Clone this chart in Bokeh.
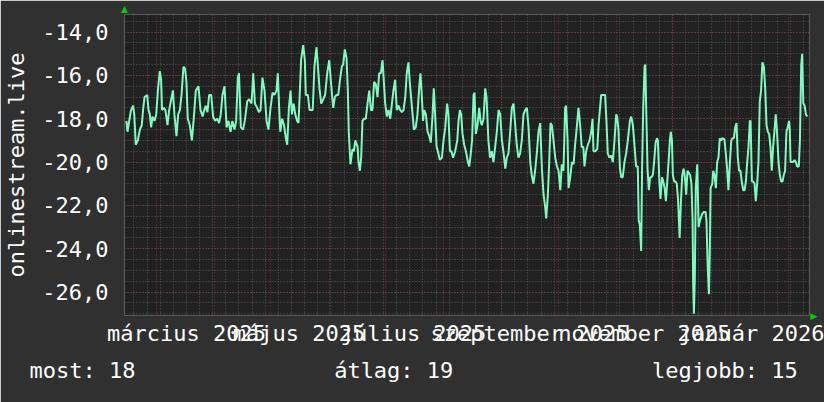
import math
from bokeh.plotting import figure
from bokeh.models import FixedTicker, Range1d, LinearAxis, Title
from bokeh.embed import file_html
from bokeh.resources import INLINE

# x = days since 2025-02-12, y = value
days = [
    1.0, 1.6, 2.7, 3.5, 4.6, 5.2, 6.0, 7.1, 8.2, 9.2, 10.0, 10.7, 12.1, 12.8, 13.5, 14.2, 14.9, 16.0, 16.9, 17.8,
    18.8, 19.5, 20.0, 21.0, 21.8, 22.9, 23.8, 24.9, 25.8, 26.6, 27.7, 28.6, 29.5, 30.4, 31.4, 32.3, 33.0, 33.7, 34.8, 35.9,
    36.8, 38.0, 39.4, 40.5, 41.6, 42.5, 43.3, 44.2, 45.1, 46.2, 47.2, 48.3, 49.4, 50.4, 51.3, 52.2, 53.3, 54.4, 55.4, 56.5,
    57.5, 58.6, 59.5, 60.4, 61.0,
    62.0, 63.2, 64.1, 65.4, 66.4, 67.7, 68.6, 69.5, 70.7, 71.6, 72.5, 73.5, 74.6, 75.7, 76.7, 77.8, 78.9, 79.9, 81.0, 81.7,
    82.4, 83.0, 84.0, 85.0, 86.0, 86.7, 87.6, 88.5, 89.2, 90.1, 91.0, 92.0, 92.7, 93.4, 94.1, 95.2, 96.1, 96.6, 97.7, 98.6,
    99.5, 100.3, 101.2, 102.3, 103.0, 103.9, 104.8, 105.9, 106.9, 108.0, 109.1, 110.1, 111.2, 112.1, 113.0, 113.9, 114.7,
    115.8, 116.5, 117.4, 118.3, 119.0, 119.5, 120.4, 121.5, 122.2,
    123.0, 124.2, 124.7, 125.4, 126.1, 126.8, 127.7, 128.6, 129.5, 130.4, 131.3, 132.1, 133.0, 133.9, 134.8, 135.7, 136.6,
    137.5, 138.2, 138.9, 139.8, 140.7, 141.6, 142.5, 143.3, 144.2, 145.1, 146.0, 146.9, 147.8, 148.7, 149.6, 150.4, 151.3,
    152.0, 152.8, 153.5, 154.2, 155.2, 156.1, 157.0, 157.7, 158.4, 159.1, 159.7, 160.6, 161.5, 162.4, 163.2, 164.1, 164.8,
    165.5, 166.3, 167.0, 168.0, 169.1, 170.0, 170.9, 171.9, 172.6, 173.4, 174.2, 175.1, 176.2, 177.3, 178.0, 178.7, 179.4,
    180.1, 181.0, 181.9, 183.0, 183.7, 184.4, 185.2,
    186.0, 186.5, 187.2, 188.1, 189.0, 189.7, 190.4, 191.3, 192.2, 192.9, 193.9, 194.8, 195.7, 196.6, 197.5, 198.4, 199.3,
    200.2, 201.1, 201.9, 202.9, 203.7, 204.6, 205.5, 206.4, 207.3, 208.2, 209.0, 209.9, 210.8, 211.7, 212.6, 213.5, 214.4,
    215.3, 216.2, 217.0, 217.9, 218.8, 219.7, 220.6, 221.5, 222.4, 223.3, 224.2, 224.7, 225.6, 226.3, 227.0, 227.7, 228.6,
    229.5, 230.4, 231.3, 232.2, 233.0, 233.9, 234.8, 235.3, 236.1, 236.6, 237.5, 238.4, 239.3, 240.1, 241.0, 241.9, 242.8,
    243.6, 244.5,
    245.1, 246.0, 246.9, 247.8, 248.7, 249.4, 249.9, 250.8, 251.9, 252.6, 253.3, 254.0, 254.9, 256.1, 256.8, 257.5, 258.4,
    259.3, 260.2, 261.1, 262.0, 262.5, 263.2, 264.0, 264.7, 265.5, 266.4, 267.3, 268.2, 269.3, 270.0, 270.9, 271.8, 272.6,
    273.5, 274.0, 274.6, 275.3, 275.8, 276.4, 277.1, 277.5, 278.0, 278.7, 279.4, 280.1, 280.8, 281.5, 282.2, 283.0, 283.7,
    284.2, 285.0, 285.6, 286.4, 287.1, 287.8, 288.5, 289.2, 289.9, 290.6, 291.1, 291.7, 292.2, 292.9, 293.6, 294.3, 295.0,
    295.8, 296.5, 297.2, 297.9, 298.6, 299.3, 300.0, 300.7, 301.4, 302.1, 302.7, 303.0, 303.4, 303.9, 304.4, 305.2, 305.9,
    306.6,
    307.8, 308.7, 309.6, 310.1, 310.8, 311.4, 311.9, 312.3, 313.2, 313.7, 314.4, 315.1, 315.8, 316.5, 317.2, 317.9, 318.6,
    319.7, 320.4, 321.1, 321.8, 322.6, 323.3, 324.0, 324.7, 325.4, 326.1, 326.8, 327.5, 328.2, 328.9, 329.7, 330.4, 331.1,
    331.8, 332.5, 333.2, 333.6, 334.3, 335.0, 335.7, 336.4, 337.1, 337.8, 338.5, 339.2, 339.9, 340.7, 341.4, 342.1, 342.8,
    343.5, 344.2, 344.9, 345.6, 346.3, 347.0, 347.7, 348.5, 349.2, 349.9, 350.6, 351.3, 352.0, 352.7, 353.4, 354.1, 354.5,
    354.9, 355.6, 356.3, 357.0, 357.7, 358.4, 359.3, 359.9, 360.6, 361.1, 361.7, 362.4, 363.1, 363.8,
]
values = [
    -18.1, -18.6, -18.0, -17.6, -17.4, -17.8, -19.2, -19.0, -18.5, -18.3, -17.5, -17.0, -16.9, -17.6, -17.8, -18.4, -17.9, -18.1, -17.8, -16.7,
    -15.8, -16.2, -17.6, -17.5, -17.6, -18.3, -17.6, -17.1, -16.7, -17.8, -18.8, -17.8, -17.6, -16.9, -15.6, -15.7, -16.3, -18.0, -18.3, -19.0,
    -18.1, -16.7, -16.5, -17.6, -17.9, -17.6, -17.4, -17.7, -16.9, -16.9, -17.9, -18.1, -18.0, -18.2, -17.8, -16.9, -16.5, -18.4, -18.1, -18.6,
    -18.1, -18.5, -18.1, -16.1, -15.9,
    -18.4, -18.5, -18.1, -17.2, -17.1, -17.3, -15.9, -17.3, -17.5, -17.7, -17.6, -16.1, -16.7, -18.1, -18.5, -17.5, -16.8, -16.9, -16.7, -15.9,
    -17.5, -18.6, -18.0, -18.3, -18.9, -19.2, -17.5, -16.7, -17.8, -17.3, -17.8, -18.1, -18.2, -16.8, -15.3, -14.6, -15.3, -16.9, -16.9, -17.6,
    -17.6, -17.6, -15.6, -14.7, -15.5, -16.6, -17.3, -17.1, -16.9, -15.9, -15.3, -16.4, -17.5, -17.0, -16.9, -16.9, -16.3,
    -15.6, -15.5, -14.8, -15.2, -16.7, -18.6, -20.1, -19.4, -19.5,
    -19.0, -19.3, -20.0, -20.4, -19.8, -18.1, -18.0, -18.0, -17.3, -16.7, -17.6, -17.6, -16.3, -16.4, -17.0, -15.9, -15.9,
    -15.3, -16.3, -17.3, -17.9, -17.6, -18.0, -17.3, -16.7, -16.2, -17.6, -17.4, -17.6, -17.7, -17.6, -17.0, -15.9, -15.4,
    -16.3, -17.1, -17.8, -18.5, -18.4, -17.8, -16.6, -15.9, -16.9, -18.1, -17.6, -17.8, -18.6, -18.8, -19.1, -17.9, -16.6,
    -17.8, -19.3, -19.5, -19.9, -19.8, -19.0, -18.4, -17.3, -17.8, -19.5, -19.5, -19.8, -19.5, -19.0, -18.1, -17.6, -17.8,
    -18.7, -19.2, -19.5, -20.0, -20.2, -19.7, -19.0,
    -16.9, -16.8, -18.7, -18.3, -17.5, -18.1, -18.3, -18.0, -16.6, -17.0, -19.0, -19.8, -19.5, -20.0, -19.3, -18.6, -17.6,
    -17.8, -19.0, -19.5, -20.3, -19.8, -19.6, -18.6, -17.5, -17.3, -18.3, -19.2, -19.8, -19.6, -19.0, -17.8, -17.6, -17.5,
    -18.4, -20.0, -20.6, -21.0, -20.4, -19.6, -18.6, -18.2, -20.3, -21.5, -22.1, -22.6, -21.5, -20.0, -18.2, -18.3, -19.0,
    -19.8, -20.2, -20.4, -21.3, -20.1, -20.4, -17.5, -17.4, -19.0, -21.2, -20.7, -20.0, -20.1, -19.2, -18.4, -17.5, -18.3,
    -19.3, -19.3,
    -20.2, -19.5, -19.2, -19.0, -18.6, -18.0, -19.5, -19.5, -19.4, -18.3, -17.6, -16.9, -16.9, -16.9, -18.1, -19.6, -19.8,
    -19.7, -20.0, -19.0, -17.8, -17.9, -18.5, -20.3, -20.7, -20.7, -20.0, -19.6, -19.0, -18.1, -17.9, -18.3, -19.3, -20.2,
    -20.2, -22.7, -22.9, -24.1, -20.3, -17.5, -15.6, -15.5, -17.6, -20.3, -21.3, -20.7, -20.7, -20.6, -20.0, -19.1, -18.9,
    -19.0, -20.9, -21.7, -20.7, -20.9, -21.2, -21.8, -20.9, -20.0, -19.0, -18.6, -19.0, -20.6, -20.9, -20.9, -21.0, -21.8,
    -23.5, -21.8, -20.6, -20.3, -20.7, -21.5, -20.4, -20.5, -20.6, -21.0, -22.7, -25.5, -27.0, -25.3, -21.2, -20.1, -23.0,
    -22.7,
    -22.4, -22.3, -22.3, -22.7, -24.9, -26.1, -24.0, -21.2, -21.0, -20.4, -20.6, -21.2, -20.0, -19.8, -18.9, -19.0, -18.9,
    -18.95, -19.6, -20.3, -21.3, -20.0, -19.0, -18.9, -18.9, -18.4, -18.2, -19.8, -20.4, -20.4, -20.9, -21.3, -21.3, -20.9,
    -20.0, -19.3, -18.1, -18.1, -20.9, -20.9, -21.0, -21.8, -21.0, -20.0, -17.2, -16.7, -15.4, -15.6, -16.6, -18.3, -18.6,
    -18.7, -19.3, -20.4, -19.3, -18.6, -17.8, -18.6, -20.0, -20.6, -20.9, -20.9, -20.6, -20.4, -18.6, -18.4, -18.1, -18.5,
    -20.0, -20.0, -20.0, -19.9, -20.0, -20.2, -20.2, -19.0, -15.5, -15.0, -17.3, -17.4, -17.8, -17.9,
]

y_ticks = [-26, -24, -22, -20, -18, -16, -14]
y_tick_labels = ["-26,0", "-24,0", "-22,0", "-20,0", "-18,0", "-16,0", "-14,0"]
y_minor = [-27 + 0.5 * i for i in range(28)]
month_start_days = [17, 48, 78, 109, 139, 170, 201, 231, 262, 292, 323, 354]
week_days = [5 + 7 * i for i in range(52)]
label_days = [33, 93, 154, 216, 277, 339]
label_texts = ["március 2025", "május 2025", "július 2025", "szeptember 2025", "november 2025", "január 2026"]
legend_texts = ["most: 18", "átlag: 19", "legjobb: 15"]
legend_cols = [0, 23, 47]
y_title = "onlinestream.live"

X0, X1 = 0, 365
Y0, Y1 = -27.08, -13.19

FONT = "DejaVu Sans Mono"
FS = "22px"
TXT = "#ffffff"
ARROW = "#00d000"

p = figure(width=824, height=402, output_backend="svg", toolbar_location=None,
           x_range=Range1d(X0, X1), y_range=Range1d(Y0, Y1),
           min_border_left=124, min_border_right=15, min_border_top=14, min_border_bottom=87,
           background_fill_color="#212121", border_fill_color="#303030",
           outline_line_color=None)
p.styles = {"position": "absolute", "left": "0px", "top": "0px"}

# grids
p.xgrid.ticker = FixedTicker(ticks=month_start_days, minor_ticks=week_days)
p.ygrid.ticker = FixedTicker(ticks=y_ticks, minor_ticks=y_minor)
for g in (p.xgrid, p.ygrid):
    g.grid_line_color = "#7c3232"
    g.grid_line_dash = "1 2"
    g.grid_line_width = 1
    g.minor_grid_line_color = "#585858"
    g.minor_grid_line_dash = "1 2"
    g.minor_grid_line_width = 1

# arrow axes (top-left up arrow, bottom-right right arrow)
top_axis = LinearAxis(ticker=FixedTicker(ticks=[X0]), major_label_overrides={X0: "▲"})
right_axis = LinearAxis(ticker=FixedTicker(ticks=[Y0]), major_label_overrides={Y0: "▶"})
p.add_layout(top_axis, "above")
p.add_layout(right_axis, "right")

# axes
p.yaxis[0].ticker = FixedTicker(ticks=y_ticks)
p.yaxis[0].major_label_overrides = dict(zip(y_ticks, y_tick_labels))
p.xaxis[1].ticker = FixedTicker(ticks=label_days)
p.xaxis[1].major_label_overrides = dict(zip(label_days, label_texts))
for ax in list(p.xaxis) + list(p.yaxis):
    ax.axis_line_color = None
    ax.major_tick_line_color = None
    ax.minor_tick_line_color = None
    ax.major_tick_in = 0
    ax.major_tick_out = 0
    ax.minor_tick_in = 0
    ax.minor_tick_out = 0
    ax.major_label_text_font = FONT
    ax.major_label_text_font_size = FS
    ax.major_label_text_color = TXT
for ax in (top_axis, right_axis):
    ax.major_label_text_font = "DejaVu Sans"
    ax.major_label_text_font_size = "9px"
    ax.major_label_text_color = ARROW
    ax.major_label_standoff = 1

p.yaxis[0].major_label_standoff = 16
p.yaxis[0].axis_label = y_title
p.yaxis[0].axis_label_standoff = 10
p.yaxis[0].axis_label_text_font = FONT
p.yaxis[0].axis_label_text_font_size = FS
p.yaxis[0].axis_label_text_font_style = "normal"
p.yaxis[0].axis_label_text_color = TXT
p.xaxis[1].major_label_standoff = 5

p.line(days, values, line_color="#7dfcc0", line_width=2)

# stats line under the chart (monospace columns)
stats = ""
for col, t in zip(legend_cols, legend_texts):
    stats += "\u00a0" * (col - len(stats)) + t
p.add_layout(Title(text=stats, align="left", offset=-95, standoff=15,
                   text_font=FONT, text_font_size=FS, text_font_style="normal",
                   text_color=TXT), "below")

open("out.html", "w").write(file_html(p, INLINE))
